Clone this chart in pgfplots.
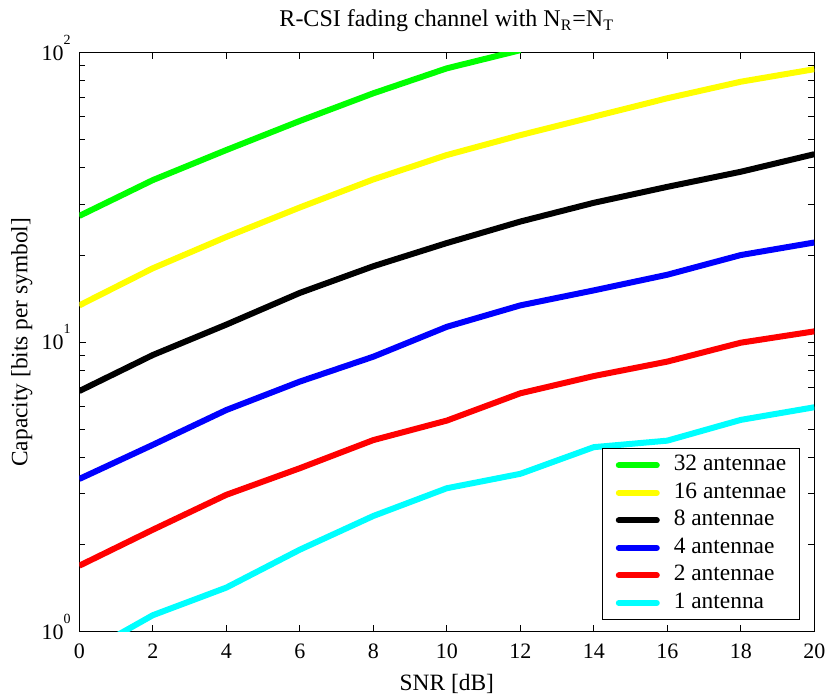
\documentclass[border=0pt]{standalone}
\usepackage{fontspec}
\setmainfont{Liberation Serif}
\usepackage{pgfplots}
\pgfplotsset{compat=1.18}

\definecolor{cgreen}{RGB}{0,255,0}
\definecolor{cyellow}{RGB}{255,255,0}
\definecolor{cblue}{RGB}{0,0,255}
\definecolor{cred}{RGB}{255,0,0}
\definecolor{ccyan}{RGB}{0,255,255}

\newcommand{\tenpow}[1]{10\raisebox{8pt}{\fontsize{7}{8}\selectfont #1}}

\begin{document}
\begin{tikzpicture}
\begin{axis}[
  scale only axis,
  width=367.5pt, height=289.5pt,
  at={(0,0)}, anchor=south west,
  xmin=0, xmax=20,
  ymode=log, ymin=1, ymax=100,
  xtick={0,2,...,20},
  ytick={1,10,100},
  yticklabels={\tenpow{0},\tenpow{1},\tenpow{2}},
  minor ytick={2,3,4,5,6,7,8,9,20,30,40,50,60,70,80,90},
  tick align=inside,
  major tick length=3.3pt, minor tick length=3pt,
  every tick/.style={black, line width=0.5pt},
  axis line style={line width=0.7pt},
  xticklabel style={font=\fontsize{11}{13}\selectfont,
    /pgf/number format/assume math mode=true,
    anchor=base, inner sep=0pt, yshift=-13.65pt},
  yticklabel style={font=\fontsize{11}{13}\selectfont,
    anchor=base east, inner sep=0pt, xshift=-4.15pt, yshift=-3.7pt},
  title={R-CSI fading channel with N\textsubscript{R}=N\textsubscript{T}},
  title style={font=\fontsize{12}{14}\selectfont, anchor=base,
    at={(0.5,1)}, yshift=6.85pt},
  xlabel={SNR [dB]},
  xlabel style={font=\fontsize{11.7}{14}\selectfont, anchor=base,
    at={(0.5,0)}, yshift=-29.65pt},
  every axis plot/.append style={line width=3pt, line join=round},
  legend image code/.code={\draw[#1, line width=3pt, line cap=round] (0pt,0pt) -- (19pt,0pt);},
  legend cell align=left,
  legend style={at={(1,0)}, anchor=south east, xshift=-7.15pt, yshift=5.85pt,
    font=\fontsize{11.7}{13}\selectfont, draw=black, line width=0.5pt,
    inner xsep=6.65pt, inner ysep=3pt, row sep=3.26pt, column sep=7pt,
    nodes={inner sep=0pt, text height=8pt, text depth=2.5pt}},
]
\addplot[cgreen] coordinates {(0,27.3) (2,36.3) (4,46.1) (6,58.1) (8,72.4) (10,88.3) (12,102)};
\addplot[cyellow] coordinates {(0,13.4) (2,18.0) (4,23.1) (6,29.2) (8,36.5) (10,44.3) (12,51.9) (14,60.1) (16,69.6) (18,79.4) (20,87.7)};
\addplot[black] coordinates {(0,6.78) (2,9.03) (4,11.5) (6,14.8) (8,18.3) (10,22.0) (12,26.1) (14,30.3) (16,34.4) (18,38.8) (20,44.6)};
\addplot[cblue] coordinates {(0,3.37) (2,4.42) (4,5.83) (6,7.31) (8,8.91) (10,11.3) (12,13.4) (14,15.1) (16,17.1) (18,20.0) (20,22.1)};
\addplot[cred] coordinates {(0,1.69) (2,2.25) (4,2.97) (6,3.67) (8,4.59) (10,5.36) (12,6.66) (14,7.64) (16,8.57) (18,9.96) (20,10.9)};
\addplot[ccyan] coordinates {(0,0.82) (2,1.14) (4,1.42) (6,1.92) (8,2.51) (10,3.13) (12,3.51) (14,4.34) (16,4.57) (18,5.39) (20,5.96)};
\legend{32 antennae, 16 antennae, 8 antennae, 4 antennae, 2 antennae, 1 antenna}
\end{axis}
% y label, rotated by hand
\node[rotate=90, anchor=base, inner sep=0pt, font=\fontsize{11.7}{14}\selectfont]
  at (-25.9pt,144.75pt) {Capacity [bits per symbol]};
\pgfresetboundingbox
\useasboundingbox (-39.65pt,-32.15pt) rectangle (373.85pt,315.85pt);
\end{tikzpicture}
\end{document}
